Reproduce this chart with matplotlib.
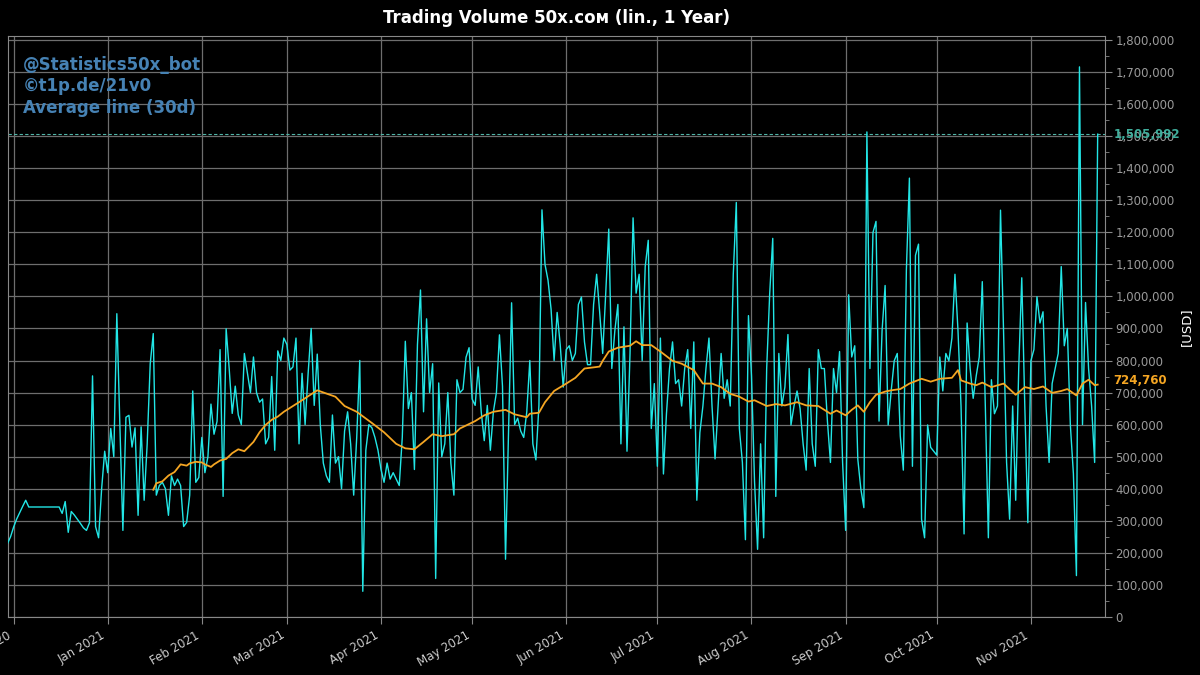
import matplotlib
matplotlib.use("Agg")
import matplotlib.pyplot as plt
import matplotlib.dates as mdates
import matplotlib.ticker as mticker
import pandas as pd

# daily volume in thousand USD, starting 2020-11-29
start = "2020-11-29"
vol_nov20 = [229, 250]
vol_dec20 = [280, 305, 325, 345, 364, 343, 343, 343, 343, 343, 343, 343, 343, 343, 343, 343,
             323, 360, 264, 329, 318, 305, 292, 278, 270, 294, 752, 282, 247, 400, 517]
vol_jan21 = [450, 588, 500, 946, 600, 270, 623, 629, 530, 590, 317, 593, 364, 540, 790, 884,
             380, 410, 420, 400, 317, 440, 410, 430, 410, 282, 295, 380, 705, 420, 435]
vol_feb21 = [560, 450, 500, 664, 570, 610, 834, 376, 899, 775, 635, 720, 630, 600, 822, 760,
             700, 811, 700, 670, 680, 540, 560, 750, 520, 830, 800, 870]
vol_mar21 = [850, 770, 780, 870, 540, 760, 600, 760, 900, 660, 820, 600, 480, 440, 420, 630,
             480, 500, 400, 580, 640, 540, 380, 560, 800, 80, 520, 600, 590, 560, 520]
vol_apr21 = [460, 420, 480, 430, 450, 430, 410, 560, 860, 650, 700, 460, 850, 1020, 640, 930,
             700, 790, 120, 730, 500, 540, 700, 480, 380, 740, 700, 710, 810, 840]
vol_may21 = [680, 660, 780, 640, 550, 660, 520, 640, 700, 880, 720, 180, 580, 980, 600, 620,
             580, 560, 640, 800, 540, 490, 660, 1270, 1100, 1050, 960, 800, 950, 850, 717]
vol_jun21 = [834, 846, 800, 822, 975, 998, 858, 787, 787, 975, 1069, 951, 822, 1010, 1210, 775,
             893, 975, 540, 905, 517, 822, 1245, 1010, 1069, 800, 1093, 1175, 588, 728]
vol_jul21 = [470, 870, 446, 634, 775, 858, 728, 740, 658, 775, 834, 588, 858, 364, 575, 658,
             775, 870, 658, 493, 658, 822, 682, 740, 658, 1069, 1293, 588, 482, 241, 940]
vol_aug21 = [752, 423, 211, 540, 247, 775, 1010, 1181, 376, 822, 658, 717, 881, 599, 658, 705,
             650, 540, 458, 775, 540, 470, 834, 775, 775, 611, 482, 775, 700, 828, 482]
vol_sep21 = [270, 1005, 811, 846, 493, 400, 341, 1513, 775, 1199, 1234, 611, 893, 1034, 599, 705,
             799, 822, 564, 458, 1081, 1369, 470, 1128, 1163, 305, 247, 599, 529, 517]
vol_oct21 = [505, 811, 705, 822, 799, 870, 1069, 893, 658, 259, 917, 775, 682, 752, 811, 1046,
             658, 247, 740, 634, 658, 1269, 893, 482, 305, 658, 364, 775, 1058, 658, 294]
vol_nov21 = [799, 834, 999, 917, 952, 658, 482, 728, 775, 822, 1093, 846, 900, 599, 447, 129,
             1716, 600, 981, 775, 658, 482, 1505.992]

# 30 day average line: day offset from start, value in thousand USD
avg_days = [48, 49, 51, 53, 55, 57, 59, 60, 62, 64, 65, 67, 68, 70, 72, 74, 76, 78, 81, 83,
            85, 87, 89, 91, 96, 102, 108, 111, 115, 120, 124, 128, 131, 134, 137, 140, 143,
            147, 149, 154, 157, 160, 164, 167, 171, 172, 175, 177, 180, 184, 187, 190, 195,
            196, 198, 201, 205, 207, 209, 212, 215, 219, 222, 226, 229, 232, 235, 238, 241,
            244, 246, 250, 253, 256, 260, 263, 267, 270, 271, 273, 276, 278, 280, 282, 284,
            286, 289, 291, 294, 297, 301, 304, 307, 311, 313, 314, 317, 319, 321, 324, 328,
            332, 335, 338, 341, 344, 347, 349, 352, 354, 356, 358, 359]
avg_vals = [397, 417, 423, 441, 452, 476, 472, 479, 484, 482, 476, 468, 476, 488, 493, 511,
            523, 517, 546, 576, 599, 615, 625, 640, 670, 707, 687, 658, 640, 605, 576, 540,
            526, 523, 546, 570, 564, 570, 588, 611, 629, 640, 646, 632, 623, 634, 637, 670,
            705, 728, 746, 775, 781, 799, 828, 840, 846, 860, 848, 848, 828, 799, 790, 770,
            728, 728, 717, 696, 687, 672, 676, 658, 664, 660, 670, 660, 658, 640, 634, 644,
            629, 646, 660, 640, 670, 693, 703, 707, 711, 728, 743, 734, 743, 746, 770, 738,
            728, 723, 731, 717, 728, 693, 717, 711, 719, 699, 705, 711, 691, 728, 740, 723,
            724.76]

volume = (vol_nov20 + vol_dec20 + vol_jan21 + vol_feb21 + vol_mar21 + vol_apr21 + vol_may21
          + vol_jun21 + vol_jul21 + vol_aug21 + vol_sep21 + vol_oct21 + vol_nov21)
volume = [v * 1000 for v in volume]
dates = pd.date_range(start, periods=len(volume), freq="D")
avg_dates = pd.Timestamp(start) + pd.to_timedelta(avg_days, unit="D")
avg_line = [v * 1000 for v in avg_vals]
last_vol = volume[-1]
last_avg = avg_line[-1]

fig = plt.figure(figsize=(12, 6.75), dpi=100, facecolor="black")
ax = fig.add_axes([0.00625, 0.086, 0.9146, 0.861])
ax.set_facecolor("black")

ax.plot(dates, volume, color="#22e6e6", lw=1.0, zorder=3)
ax.plot(avg_dates, avg_line, color="#f5a623", lw=1.3, zorder=4)
ax.axhline(last_vol, color="#4fb3a6", lw=0.8, ls=(0, (3, 2)), zorder=2)

ax.set_xlim(pd.Timestamp(start), pd.Timestamp("2021-11-25 10:00"))
ax.set_ylim(0, 1813000)

ax.yaxis.tick_right()
ax.yaxis.set_label_position("right")
ax.yaxis.set_major_locator(mticker.MultipleLocator(100000))
ax.yaxis.set_minor_locator(mticker.MultipleLocator(50000))
ax.yaxis.set_major_formatter(mticker.FuncFormatter(lambda v, p: f"{int(v):,}"))
ax.xaxis.set_major_locator(mdates.MonthLocator())
ax.xaxis.set_major_formatter(mdates.DateFormatter("%b %Y"))

ax.tick_params(axis="y", which="both", colors="#888888", labelcolor="#9a9a9a", labelsize=8.5)
ax.tick_params(axis="y", which="major", length=5, pad=2.5)
ax.tick_params(axis="y", which="minor", length=3)
ax.tick_params(axis="x", colors="#888888", labelcolor="#cccccc", labelsize=8.5, length=5)
for lab in ax.get_xticklabels():
    lab.set_rotation(30)
    lab.set_ha("right")

ax.grid(True, which="major", color="#6e6e6e", lw=0.9)
for s in ax.spines.values():
    s.set_color("#888888")

ax.set_ylabel("[USD]", color="white", fontsize=9.5, labelpad=4)
ax.set_title("Trading Volume 50x.coм (lin., 1 Year)", color="white", fontsize=12,
             fontweight="bold", pad=9)

ax.text(0.014, 0.966, "@Statistics50x_bot\n©t1p.de/21v0\nAverage line (30d)",
        transform=ax.transAxes, color="#4682b4", fontsize=12, fontweight="bold",
        va="top", ha="left", linespacing=1.25, zorder=5)

ax.annotate(f"{last_vol:,.0f}", xy=(1, last_vol), xycoords=("axes fraction", "data"),
            xytext=(6, 0), textcoords="offset points", color="#3fae9c", fontsize=8.5,
            fontweight="bold", va="center", ha="left")
ax.annotate(f"{last_avg:,.0f}", xy=(1, last_avg), xycoords=("axes fraction", "data"),
            xytext=(6, 3), textcoords="offset points", color="#f5a623", fontsize=8.5,
            fontweight="bold", va="center", ha="left")

fig.savefig("out.png", dpi=100, facecolor="black")
